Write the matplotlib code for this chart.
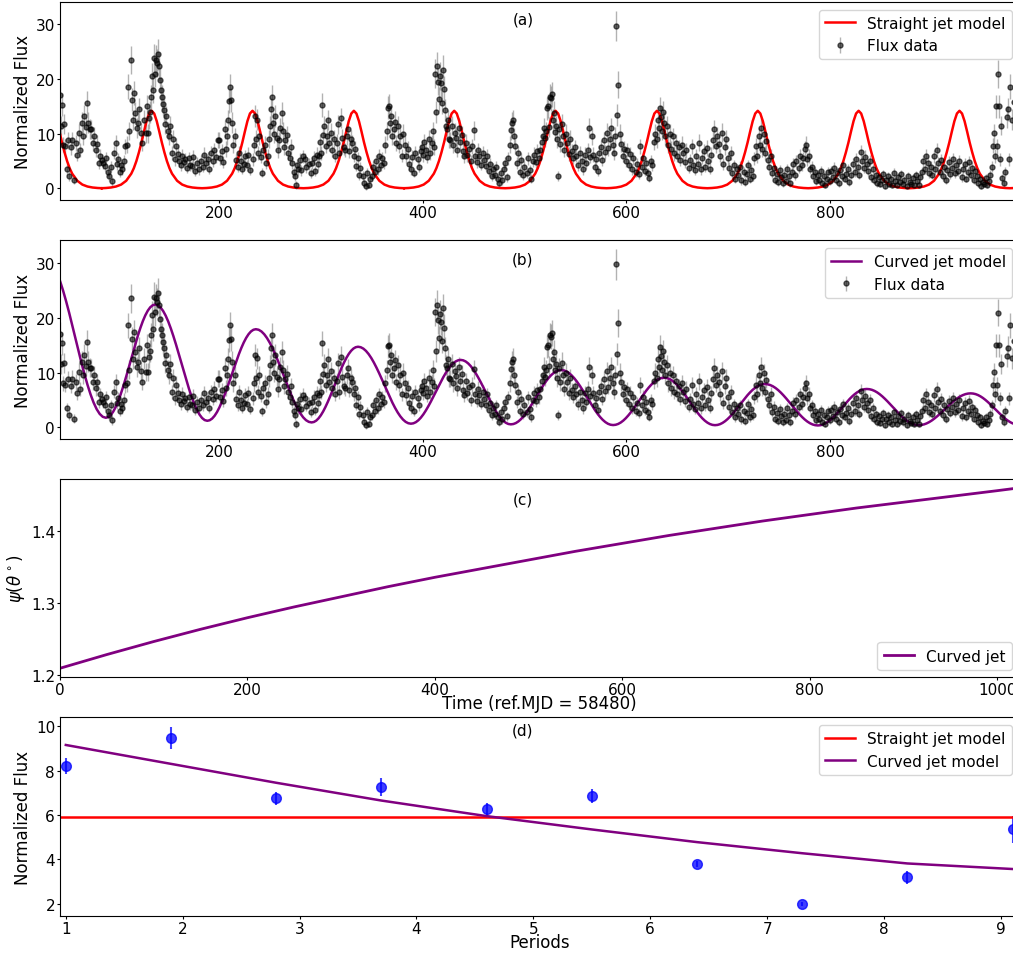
import numpy as np
import matplotlib.pyplot as plt

# light curve (days after MJD 58480) (a)/(b)
days = [
    44, 45, 46, 47, 48, 49, 51, 52, 53, 55,
    56, 58, 60, 61, 63, 64, 66, 67, 68, 70,
    71, 72, 73, 74, 76, 77, 79, 80, 82, 83,
    85, 86, 88, 89, 91, 92, 94, 95, 97, 99,
    # 100-199
    100, 101, 103, 104, 105, 107, 108, 110, 111, 112,
    114, 115, 116, 117, 118, 120, 121, 122, 124, 125,
    126, 128, 129, 130, 131, 132, 133, 134, 135, 136,
    137, 138, 139, 140, 141, 142, 143, 144, 145, 146,
    147, 148, 150, 151, 152, 154, 155, 157, 158, 160,
    161, 163, 164, 166, 167, 169, 171, 172, 174, 175,
    177, 179, 180, 182, 184, 185, 187, 189, 190, 192,
    194, 195, 197, 199,
    # 200-299
    200, 201, 203, 204, 206, 207, 208, 209, 210, 211,
    212, 213, 214, 216, 217, 219, 220, 222, 223, 225,
    226, 228, 229, 231, 233, 234, 235, 236, 237, 238,
    239, 241, 242, 243, 245, 246, 248, 249, 250, 251,
    252, 253, 254, 255, 257, 258, 259, 260, 262, 263,
    264, 265, 267, 268, 270, 271, 272, 274, 275, 276,
    277, 278, 280, 281, 283, 285, 286, 288, 290, 291,
    293, 294, 296, 297, 298, 299,
    # 300-399
    300, 301, 302, 303, 305, 306, 307, 308, 310, 311,
    313, 314, 316, 317, 318, 320, 321, 323, 324, 326,
    327, 328, 330, 331, 333, 334, 335, 337, 338, 339,
    341, 342, 344, 345, 347, 348, 350, 351, 353, 354,
    356, 357, 359, 360, 362, 363, 365, 366, 367, 368,
    369, 370, 372, 373, 374, 376, 377, 378, 380, 381,
    383, 384, 386, 387, 389, 390, 392, 393, 395, 396,
    398, 399,
    # 400-499
    400, 401, 403, 404, 406, 407, 409, 410, 411, 412,
    413, 414, 415, 416, 417, 418, 419, 420, 421, 422,
    423, 424, 425, 426, 427, 429, 430, 432, 433, 434,
    436, 437, 439, 440, 441, 443, 444, 446, 447, 448,
    450, 451, 453, 454, 455, 457, 459, 460, 462, 463,
    465, 466, 468, 469, 471, 472, 474, 475, 477, 478,
    480, 481, 483, 484, 486, 487, 488, 489, 490, 491,
    493, 494, 496, 497, 499,
    # 500-600
    500, 502, 503, 505, 506, 508, 509, 511, 512, 514,
    515, 517, 518, 519, 520, 521, 522, 523, 524, 525,
    526, 527, 528, 529, 530, 531, 532, 533, 534, 535,
    537, 538, 539, 541, 542, 544, 545, 547, 548, 550,
    551, 553, 554, 556, 557, 559, 560, 562, 563, 564,
    566, 567, 569, 570, 572, 573, 575, 576, 578, 579,
    581, 582, 584, 585, 587, 588, 589, 590, 591, 592,
    594, 595, 597, 598, 600,
    # 601-700
    601, 603, 604, 606, 607, 609, 610, 612, 613, 615,
    616, 618, 619, 621, 622, 624, 625, 627, 628, 630,
    631, 632, 633, 634, 635, 636, 637, 638, 640, 641,
    643, 644, 646, 647, 649, 650, 652, 653, 655, 656,
    658, 659, 661, 662, 664, 665, 667, 668, 670, 671,
    673, 674, 676, 677, 679, 680, 682, 683, 685, 686,
    688, 689, 691, 692, 694, 695, 697, 698, 700,
    # 701-800
    701, 703, 704, 706, 707, 709, 710, 712, 713, 715,
    716, 718, 719, 721, 722, 724, 725, 727, 728, 730,
    731, 732, 733, 735, 736, 737, 739, 740, 742, 743,
    745, 746, 748, 749, 751, 752, 754, 755, 757, 758,
    760, 761, 763, 764, 766, 767, 769, 770, 772, 773,
    775, 776, 777, 779, 780, 782, 783, 785, 786, 788,
    789, 791, 792, 794, 795, 797, 798, 800,
    # 801-899
    801, 803, 804, 806, 807, 809, 810, 812, 813, 815,
    816, 818, 819, 821, 822, 824, 825, 827, 828, 830,
    831, 833, 834, 836, 837, 839, 840, 842, 843, 845,
    846, 848, 849, 851, 852, 854, 855, 857, 858, 860,
    861, 863, 864, 866, 867, 869, 870, 872, 873, 875,
    876, 878, 879, 881, 882, 884, 885, 887, 888, 890,
    891, 893, 894, 896, 897, 899,
    # 900-986
    900, 902, 903, 905, 906, 908, 909, 911, 912, 914,
    915, 917, 918, 920, 921, 923, 924, 926, 927, 929,
    930, 932, 933, 935, 936, 938, 939, 941, 942, 944,
    945, 947, 948, 950, 951, 953, 954, 956, 957, 959,
    960, 961, 962, 963, 964, 965, 966, 967, 968, 969,
    971, 972, 974, 975, 976, 977, 979, 981, 983, 986,
]

flux = [
    17.0, 11.5, 15.3, 8.0, 11.8, 7.7, 3.5, 8.8, 2.2, 7.5,
    8.9, 1.6, 8.3, 6.2, 10.1, 7.0, 12.0, 9.5, 13.2, 11.2,
    15.6, 12.0, 10.9, 10.8, 8.3, 9.6, 7.1, 8.2, 4.7, 6.0,
    5.2, 4.7, 4.1, 5.5, 3.0, 2.2, 4.0, 1.3, 6.5, 8.3,
    # 100-199
    4.5, 5.3, 3.0, 4.2, 3.5, 5.0, 7.7, 8.0, 18.6, 10.5,
    23.5, 16.2, 12.5, 17.4, 13.8, 11.0, 12.0, 14.5, 10.2, 8.3,
    12.5, 10.1, 15.0, 10.1, 12.8, 14.0, 16.8, 20.5, 18.0, 23.8,
    21.0, 23.5, 22.9, 24.5, 22.3, 19.8, 18.0, 16.8, 15.5, 14.4,
    11.8, 13.2, 10.5, 9.5, 11.5, 6.5, 9.0, 5.3, 7.8, 6.3,
    5.0, 4.2, 6.0, 4.8, 5.3, 3.8, 5.5, 4.3, 4.1, 5.8,
    3.2, 4.6, 3.5, 5.0, 4.0, 6.2, 4.7, 5.4, 3.6, 6.5,
    5.1, 7.0, 5.8, 8.9,
    # 200-299
    8.9, 5.5, 6.8, 4.8, 10.8, 7.2, 9.5, 12.5, 16.0, 18.6,
    16.2, 12.0, 8.0, 9.5, 5.2, 4.0, 6.5, 5.0, 3.6, 4.5,
    5.9, 4.2, 6.2, 3.3, 5.3, 8.0, 13.2, 9.0, 12.6, 6.5,
    9.5, 5.8, 2.9, 7.1, 8.0, 4.7, 6.0, 9.0, 11.4, 14.5,
    16.8, 12.0, 10.0, 13.2, 9.2, 7.0, 8.9, 11.0, 13.8, 10.5,
    7.5, 8.9, 9.8, 6.5, 5.5, 7.6, 4.7, 3.0, 2.2, 0.6,
    4.2, 3.5, 5.2, 3.3, 5.9, 5.3, 3.9, 4.5, 2.8, 4.7,
    5.6, 3.2, 6.2, 4.4, 5.9, 8.5,
    # 300-399
    6.5, 15.3, 9.8, 11.4, 7.8, 9.6, 12.5, 8.3, 10.2, 7.1,
    9.0, 6.0, 8.4, 11.7, 6.5, 12.9, 9.2, 7.5, 7.1, 9.5,
    10.8, 6.8, 9.0, 8.3, 6.0, 7.2, 4.1, 5.5, 2.5, 3.8,
    2.2, 1.0, 0.4, 2.8, 0.7, 1.8, 2.2, 4.0, 3.0, 5.0,
    3.5, 6.0, 4.2, 5.5, 4.7, 8.0, 10.5, 14.8, 15.0, 12.0,
    13.2, 9.6, 10.8, 12.2, 8.3, 11.4, 7.8, 9.5, 6.0, 10.0,
    8.0, 5.9, 7.2, 4.5, 3.5, 5.8, 2.9, 6.5, 5.3, 4.0,
    6.8, 7.5,
    # 400-499
    6.2, 8.5, 7.1, 5.8, 9.0, 6.5, 8.3, 10.5, 7.6, 21.0,
    14.0, 22.3, 19.5, 16.3, 20.6, 19.3, 15.7, 21.7, 18.2, 14.4,
    11.4, 10.8, 12.5, 9.0, 8.9, 11.5, 8.0, 10.2, 9.3, 7.1,
    11.0, 8.5, 9.8, 6.8, 5.9, 8.4, 6.2, 7.3, 5.0, 7.7,
    10.6, 6.0, 4.8, 7.0, 5.9, 4.3, 6.5, 5.2, 4.1, 6.0,
    3.2, 4.5, 2.2, 3.6, 2.5, 4.0, 1.8, 1.0, 2.8, 1.5,
    3.5, 4.7, 2.0, 5.5, 8.0, 10.6, 12.0, 12.5, 9.5, 7.7,
    4.7, 6.5, 3.0, 5.2, 2.4,
    # 500-600
    4.0, 2.8, 5.5, 3.3, 1.8, 5.0, 6.2, 4.8, 6.8, 5.5,
    7.0, 8.5, 9.5, 11.0, 9.2, 10.5, 14.7, 15.0, 11.2, 16.8,
    16.5, 17.2, 12.5, 13.8, 10.4, 11.5, 9.0, 2.2, 10.8, 8.2,
    11.8, 9.5, 7.0, 10.0, 8.3, 6.3, 9.0, 6.8, 5.6, 7.5,
    6.0, 4.2, 6.5, 5.0, 3.5, 6.2, 4.6, 7.0, 11.0, 5.8,
    9.5, 6.2, 4.0, 5.4, 3.2, 6.4, 7.5, 5.2, 8.8, 6.6,
    10.2, 7.4, 9.0, 11.0, 8.0, 6.5, 9.6, 29.7, 13.4, 19.0,
    10.0, 8.2, 6.0, 7.3, 5.0,
    # 601-700
    7.0, 4.2, 6.3, 3.5, 5.5, 3.0, 4.5, 2.6, 7.7, 4.0,
    5.6, 3.2, 4.6, 2.8, 1.9, 5.0, 4.2, 8.5, 10.0, 9.0,
    12.5, 11.0, 14.7, 13.0, 10.5, 14.0, 12.0, 9.5, 11.4, 8.0,
    10.0, 7.2, 9.5, 6.4, 8.4, 6.0, 7.5, 5.2, 8.0, 6.5,
    4.8, 7.0, 3.8, 5.2, 7.7, 4.2, 3.3, 6.0, 4.5, 8.4,
    3.5, 5.6, 6.8, 4.0, 7.4, 5.0, 3.6, 6.2, 8.8, 10.8,
    7.8, 9.6, 8.2, 6.0, 10.2, 4.5, 7.5, 9.0, 5.5,
    # 701-800
    3.8, 6.5, 2.8, 4.2, 1.8, 3.5, 2.4, 4.0, 1.5, 3.0,
    1.2, 2.6, 4.2, 1.8, 3.3, 2.2, 5.5, 7.8, 6.0, 9.5,
    8.0, 11.0, 7.2, 9.9, 6.5, 8.6, 5.2, 4.0, 6.0, 2.8,
    3.8, 1.6, 2.7, 1.2, 3.4, 2.0, 1.0, 2.5, 1.4, 3.5,
    2.2, 1.0, 3.0, 4.5, 2.4, 5.0, 3.8, 6.0, 4.2, 5.5,
    7.2, 8.0, 5.3, 6.0, 3.5, 4.0, 2.2, 3.0, 1.3, 2.5,
    1.6, 3.2, 1.0, 2.2, 0.6, 1.8, 3.0, 1.4,
    # 801-899
    3.2, 2.0, 3.8, 1.5, 2.8, 1.0, 3.4, 2.2, 4.2, 1.8,
    2.6, 3.6, 1.2, 2.5, 4.5, 3.0, 5.3, 4.0, 2.5, 6.6,
    5.0, 3.8, 5.8, 4.5, 3.2, 5.0, 2.0, 3.5, 1.5, 2.4,
    1.0, 2.0, 0.8, 1.6, 2.6, 0.5, 1.5, 2.2, 0.9, 1.8,
    0.6, 2.8, 1.4, 0.7, 2.0, 1.1, 2.6, 0.9, 1.6, 0.5,
    2.2, 1.2, 0.8, 1.9, 0.6, 2.4, 1.3, 0.7, 2.0, 3.0,
    5.0, 3.6, 6.0, 4.7, 2.8, 4.0,
    # 900-986
    2.5, 5.9, 3.5, 7.0, 4.6, 3.0, 5.2, 2.2, 4.0, 1.5,
    3.3, 4.8, 2.6, 3.8, 5.3, 2.8, 4.2, 3.2, 5.0, 2.0,
    3.6, 4.5, 1.8, 3.0, 4.8, 2.5, 3.8, 1.6, 3.2, 2.2,
    1.0, 1.8, 0.5, 1.2, 0.8, 1.9, 0.6, 1.4, 2.5, 4.0,
    7.8, 10.1, 6.0, 15.0, 7.7, 20.9, 15.0, 5.3, 11.5, 1.9,
    1.0, 3.0, 13.0, 14.5, 5.3, 18.6, 12.6, 15.8, 11.4, 8.0,
]

flux_err = [
    2.3, 1.8, 2.1, 1.4, 1.8, 1.3, 1.0, 1.5, 0.9, 1.3,
    1.5, 0.8, 1.4, 1.2, 1.7, 1.3, 1.9, 1.6, 2.0, 1.8,
    2.2, 1.9, 1.8, 1.7, 1.5, 1.6, 1.3, 1.5, 1.1, 1.2,
    1.1, 1.1, 1.0, 1.2, 0.9, 0.9, 1.0, 0.8, 1.2, 1.4,
    # 100-199
    1.1, 1.2, 0.9, 1.1, 1.0, 1.2, 1.4, 1.5, 2.3, 1.7,
    2.6, 2.1, 1.9, 2.2, 2.0, 1.8, 1.9, 2.0, 1.7, 1.5,
    1.9, 1.7, 2.1, 1.7, 1.9, 2.0, 2.2, 2.5, 2.3, 2.7,
    2.5, 2.7, 2.6, 2.8, 2.6, 2.4, 2.3, 2.2, 2.1, 2.0,
    1.8, 1.9, 1.7, 1.6, 1.8, 1.3, 1.6, 1.2, 1.5, 1.3,
    1.1, 1.0, 1.3, 1.1, 1.2, 1.0, 1.2, 1.1, 1.0, 1.2,
    0.9, 1.1, 1.0, 1.1, 1.0, 1.3, 1.1, 1.2, 1.0, 1.3,
    1.1, 1.4, 1.2, 1.5,
    # 200-299
    1.5, 1.2, 1.3, 1.1, 1.8, 1.4, 1.6, 1.9, 2.2, 2.4,
    2.2, 1.9, 1.5, 1.6, 1.1, 1.0, 1.3, 1.1, 1.0, 1.1,
    1.2, 1.0, 1.3, 0.9, 1.2, 1.5, 2.0, 1.6, 1.9, 1.3,
    1.6, 1.2, 0.9, 1.4, 1.5, 1.1, 1.3, 1.6, 1.8, 2.1,
    2.2, 1.9, 1.7, 2.0, 1.6, 1.4, 1.5, 1.8, 2.0, 1.7,
    1.4, 1.5, 1.6, 1.3, 1.2, 1.4, 1.1, 0.9, 0.8, 0.7,
    1.1, 1.0, 1.2, 1.0, 1.2, 1.2, 1.0, 1.1, 0.9, 1.1,
    1.2, 0.9, 1.3, 1.1, 1.2, 1.5,
    # 300-399
    1.3, 2.2, 1.7, 1.9, 1.4, 1.6, 1.9, 1.5, 1.7, 1.3,
    1.6, 1.2, 1.5, 1.8, 1.3, 1.9, 1.6, 1.4, 1.3, 1.6,
    1.7, 1.3, 1.6, 1.5, 1.2, 1.4, 1.0, 1.2, 0.9, 1.0,
    0.9, 0.8, 0.7, 0.9, 0.7, 0.8, 0.9, 1.0, 0.9, 1.1,
    1.0, 1.2, 1.0, 1.2, 1.1, 1.5, 1.7, 2.1, 2.2, 1.9,
    2.0, 1.6, 1.8, 1.9, 1.5, 1.8, 1.4, 1.6, 1.2, 1.7,
    1.5, 1.2, 1.4, 1.1, 1.0, 1.2, 0.9, 1.3, 1.2, 1.0,
    1.3, 1.4,
    # 400-499
    1.3, 1.5, 1.4, 1.2, 1.6, 1.3, 1.5, 1.7, 1.4, 2.6,
    2.0, 2.7, 2.5, 2.2, 2.6, 2.5, 2.1, 2.7, 2.4, 2.0,
    1.8, 1.8, 1.9, 1.6, 1.5, 1.8, 1.5, 1.7, 1.6, 1.4,
    1.8, 1.5, 1.6, 1.3, 1.2, 1.5, 1.3, 1.4, 1.1, 1.4,
    1.7, 1.2, 1.1, 1.4, 1.2, 1.0, 1.3, 1.1, 1.0, 1.2,
    0.9, 1.0, 0.8, 1.0, 0.9, 1.0, 0.8, 0.7, 0.9, 0.8,
    1.0, 1.1, 0.8, 1.2, 1.5, 1.7, 1.9, 1.9, 1.6, 1.4,
    1.1, 1.3, 0.9, 1.2, 0.9,
    # 500-600
    1.0, 0.9, 1.2, 1.0, 0.8, 1.1, 1.3, 1.1, 1.3, 1.2,
    1.3, 1.5, 1.6, 1.8, 1.6, 1.7, 2.1, 2.2, 1.8, 2.3,
    2.3, 2.3, 2.0, 2.1, 1.7, 1.8, 1.6, 0.9, 1.8, 1.5,
    1.9, 1.6, 1.3, 1.7, 1.5, 1.3, 1.6, 1.3, 1.2, 1.4,
    1.2, 1.0, 1.3, 1.1, 1.0, 1.3, 1.1, 1.4, 1.8, 1.2,
    1.6, 1.3, 1.0, 1.2, 0.9, 1.3, 1.4, 1.1, 1.5, 1.3,
    1.7, 1.4, 1.6, 1.8, 1.5, 1.3, 1.6, 2.8, 2.0, 2.5,
    1.7, 1.5, 1.2, 1.4, 1.1,
    # 601-700
    1.3, 1.0, 1.3, 1.0, 1.2, 0.9, 1.1, 0.9, 1.4, 1.0,
    1.2, 0.9, 1.1, 0.9, 0.8, 1.1, 1.0, 1.5, 1.7, 1.6,
    1.9, 1.8, 2.1, 2.0, 1.7, 2.0, 1.9, 1.6, 1.8, 1.5,
    1.7, 1.4, 1.6, 1.3, 1.5, 1.2, 1.4, 1.1, 1.5, 1.3,
    1.1, 1.4, 1.0, 1.1, 1.4, 1.0, 0.9, 1.3, 1.1, 1.5,
    1.0, 1.2, 1.3, 1.0, 1.4, 1.1, 1.0, 1.3, 1.6, 1.8,
    1.4, 1.6, 1.5, 1.2, 1.7, 1.1, 1.4, 1.6, 1.2,
    # 701-800
    1.0, 1.3, 0.9, 1.0, 0.8, 1.0, 0.9, 1.0, 0.8, 0.9,
    0.8, 0.9, 1.0, 0.8, 0.9, 0.8, 1.2, 1.5, 1.3, 1.6,
    1.5, 1.8, 1.4, 1.7, 1.3, 1.5, 1.1, 1.0, 1.3, 0.9,
    1.0, 0.8, 0.9, 0.7, 0.9, 0.8, 0.7, 0.8, 0.7, 0.9,
    0.8, 0.7, 0.9, 1.0, 0.8, 1.1, 1.0, 1.2, 1.0, 1.2,
    1.4, 1.5, 1.2, 1.3, 0.9, 1.0, 0.8, 0.9, 0.7, 0.8,
    0.7, 0.9, 0.7, 0.8, 0.6, 0.7, 0.9, 0.7,
    # 801-899
    0.9, 0.8, 1.0, 0.7, 0.9, 0.7, 0.9, 0.8, 1.0, 0.7,
    0.8, 0.9, 0.7, 0.8, 1.0, 0.9, 1.1, 1.0, 0.8, 1.3,
    1.1, 1.0, 1.2, 1.0, 0.9, 1.1, 0.8, 0.9, 0.7, 0.8,
    0.7, 0.8, 0.6, 0.7, 0.8, 0.6, 0.7, 0.8, 0.6, 0.7,
    0.6, 0.9, 0.7, 0.6, 0.8, 0.7, 0.8, 0.6, 0.7, 0.6,
    0.8, 0.7, 0.6, 0.7, 0.6, 0.8, 0.7, 0.6, 0.8, 0.9,
    1.1, 1.0, 1.2, 1.1, 0.9, 1.0,
    # 900-986
    0.8, 1.2, 0.9, 1.3, 1.1, 0.9, 1.1, 0.8, 1.0, 0.7,
    0.9, 1.1, 0.8, 1.0, 1.1, 0.9, 1.0, 0.9, 1.1, 0.8,
    0.9, 1.0, 0.7, 0.9, 1.1, 0.8, 1.0, 0.7, 0.9, 0.8,
    0.7, 0.7, 0.6, 0.7, 0.6, 0.7, 0.6, 0.7, 0.8, 1.0,
    1.4, 1.7, 1.3, 2.1, 1.4, 2.5, 2.1, 1.2, 1.8, 0.8,
    0.7, 0.9, 2.0, 2.1, 1.2, 2.3, 1.9, 2.2, 1.8, 1.5,
]

# straight jet model: epochs of the maxima and the pulse shape around one maximum
straight_peak_days = [36, 134, 233, 332.5, 431, 530.5, 630, 729, 828, 927, 1026]
straight_offsets = [0, 2.5, 5, 7.5, 10, 12.5, 15, 17.5, 20, 25, 30, 35, 40, 45, 49.5]
straight_profile = [14.2, 13.7, 12.3, 10.4, 8.4, 6.6, 5.0, 3.7, 2.7, 1.4, 0.7, 0.35, 0.17, 0.08, 0.04]

# curved jet model: alternating maxima / minima
curved_knot_days = [29, 89, 137.5, 188.6, 236.3, 291, 336.6, 388.5, 437.3, 486.6,
                    536, 587, 637, 687, 736, 788, 836, 887, 938, 986]
curved_knot_flux = [31.0, 1.75, 22.4, 1.2, 17.9, 0.9, 14.7, 0.67, 12.3, 0.55,
                    10.45, 0.42, 9.05, 0.4, 7.9, 0.35, 7.0, 0.4, 6.2, 0.45]
# shape of the swing between two neighbouring extrema (0 -> 1)
swing_phase = [0, 0.05, 0.1, 0.15, 0.2, 0.25, 0.3, 0.35, 0.4, 0.45, 0.5,
               0.55, 0.6, 0.65, 0.7, 0.75, 0.8, 0.85, 0.9, 0.95, 1]
swing_shape = [0, 0.006, 0.024, 0.054, 0.095, 0.146, 0.206, 0.273, 0.345, 0.422, 0.5,
               0.578, 0.655, 0.727, 0.794, 0.854, 0.905, 0.946, 0.976, 0.994, 1]

# viewing angle of the curved jet
psi_days = [0, 50, 100, 150, 200, 250, 300, 350, 400, 450, 500,
            550, 600, 650, 700, 750, 800, 850, 900, 950, 1000, 1024]
psi_vals = [1.210, 1.229, 1.247, 1.264, 1.280, 1.295, 1.309, 1.323, 1.336, 1.348, 1.360,
            1.372, 1.383, 1.394, 1.404, 1.414, 1.423, 1.432, 1.440, 1.448, 1.456, 1.460]

# peak fluxes per period
periods = [1, 1.9, 2.8, 3.7, 4.6, 5.5, 6.4, 7.3, 8.2, 9.1]
peak_flux = [8.2, 9.45, 6.75, 7.25, 6.25, 6.85, 3.8, 2.0, 3.2, 5.35]
peak_err = [0.35, 0.5, 0.3, 0.4, 0.3, 0.3, 0.15, 0.1, 0.3, 0.6]
straight_peak_level = 5.9
curved_peak_flux = [9.15, 8.3, 7.45, 6.65, 5.95, 5.35, 4.78, 4.28, 3.82, 3.57]

# build model curves
st, sf = [], []
for pk in straight_peak_days:
    for o, v in zip(straight_offsets[::-1], straight_profile[::-1]):
        st.append(pk - o)
        sf.append(v)
    for o, v in zip(straight_offsets[1:], straight_profile[1:]):
        st.append(pk + o)
        sf.append(v)

ct, cf = [], []
for i in range(len(curved_knot_days) - 1):
    t0, t1 = curved_knot_days[i], curved_knot_days[i + 1]
    f0, f1 = curved_knot_flux[i], curved_knot_flux[i + 1]
    for p, s in zip(swing_phase, swing_shape):
        ct.append(t0 + p * (t1 - t0))
        cf.append(f0 + s * (f1 - f0))

FS = 11
plt.rcParams['font.size'] = FS
for a in ('xtick', 'ytick'):
    plt.rcParams[a + '.major.size'] = 2.5
    plt.rcParams[a + '.major.pad'] = 1.0
YLP = 2.9   # y label pad
XLP = -2.0  # x label pad

fig, axes = plt.subplots(4, 1, figsize=(10.13, 9.54), dpi=100)
fig.subplots_adjust(left=0.0592, right=1.0065, top=0.9969, bottom=0.0391, hspace=0.201)

data_kw = dict(fmt='o', color='black', ecolor='gray', alpha=0.6, ms=3.6, elinewidth=1)
tag_x = 0.4825

ax = axes[0]
ax.errorbar(days, flux, yerr=flux_err, label='Flux data', **data_kw)
ax.plot(st, sf, color='red', lw=1.8, label='Straight jet model')
ax.set_xlim(44, 986)
ax.set_ylim(-2.2, 34.1)
ax.set_ylabel('Normalized Flux', fontsize=12, labelpad=YLP)
ax.text(tag_x, 0.914, '(a)', transform=ax.transAxes, ha='center', va='center', fontsize=FS)
ax.legend(loc='upper right', fontsize=FS)

ax = axes[1]
ax.errorbar(days, flux, yerr=flux_err, label='Flux data', **data_kw)
ax.plot(ct, cf, color='purple', lw=1.8, label='Curved jet model')
ax.set_xlim(44, 986)
ax.set_ylim(-2.1, 34.1)
ax.set_ylabel('Normalized Flux', fontsize=12, labelpad=YLP)
ax.text(tag_x, 0.905, '(b)', transform=ax.transAxes, ha='center', va='center', fontsize=FS)
ax.legend(loc='upper right', fontsize=FS)

ax = axes[2]
ax.plot(psi_days, psi_vals, color='purple', lw=2, label='Curved jet')
ax.set_xlim(0, 1024)
ax.set_ylim(1.1975, 1.4725)
ax.set_yticks([1.2, 1.3, 1.4])
ax.set_ylabel(r'$\psi(\theta^\circ)$', fontsize=12, labelpad=YLP)
ax.set_xlabel('Time (ref.MJD = 58480)', fontsize=12, labelpad=XLP)
ax.text(tag_x, 0.9, '(c)', transform=ax.transAxes, ha='center', va='center', fontsize=FS)
ax.legend(loc='lower right', fontsize=FS)

ax = axes[3]
ax.errorbar(periods, peak_flux, yerr=peak_err, fmt='o', color='blue', alpha=0.75,
            ms=7, elinewidth=1.5)
ax.axhline(straight_peak_level, color='red', lw=1.8, label='Straight jet model')
ax.plot(periods, curved_peak_flux, color='purple', lw=1.8, label='Curved jet model')
ax.set_xlim(0.95, 9.16)
ax.set_ylim(1.47, 10.4)
ax.set_xticks(range(1, 10))
ax.set_yticks([2, 4, 6, 8, 10])
ax.set_ylabel('Normalized Flux', fontsize=12, labelpad=YLP)
ax.set_xlabel('Periods', fontsize=12, labelpad=XLP)
ax.text(tag_x, 0.935, '(d)', transform=ax.transAxes, ha='center', va='center', fontsize=FS)
ax.legend(loc='upper right', fontsize=FS)

fig.savefig('out.png', dpi=100)
